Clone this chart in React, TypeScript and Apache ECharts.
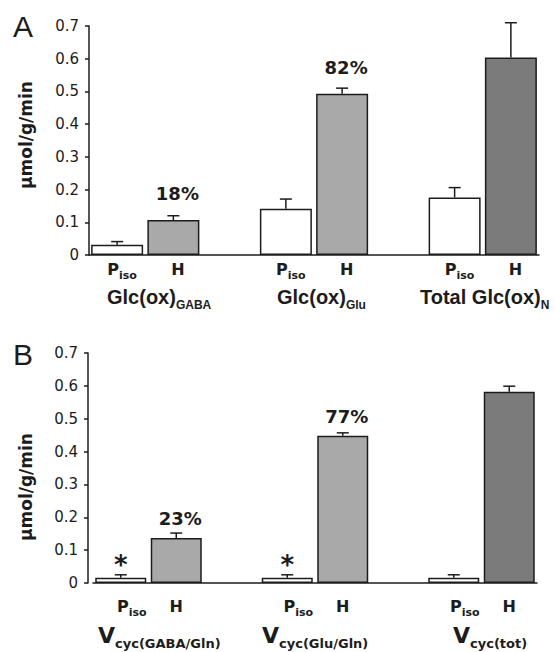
import React, { useEffect, useRef } from 'react';
import * as echarts from 'echarts';

// ---- data ----
const slots = ['Piso', 'H', '', 'Piso', 'H', '', 'Piso', 'H'];
const groupSlots = [[0, 1], [3, 4], [6, 7]];

const pisoA = [0.031, 0.141, 0.176];
const pisoErrA = [0.010, 0.030, 0.030];
const hA = [0.107, 0.493, 0.604];
const hErrA = [0.013, 0.017, 0.106];
const pctA = ['18%', '82%', ''];
const starA = ['', '', ''];
const groupLabelsA = [['Glc(ox)', 'GABA'], ['Glc(ox)', 'Glu'], ['Total Glc(ox)', 'N']];

const pisoB = [0.016, 0.016, 0.016];
const pisoErrB = [0.009, 0.009, 0.009];
const hB = [0.137, 0.448, 0.582];
const hErrB = [0.015, 0.009, 0.017];
const pctB = ['23%', '77%', ''];
const starB = ['*', '*', ''];
const groupLabelsB = [['V', 'cyc(GABA/Gln)'], ['V', 'cyc(Glu/Gln)'], ['V', 'cyc(tot)']];

const yMin = 0;
const yMax = 0.7;
const yStep = 0.1;
const yName = 'μmol/g/min';

// ---- styles ----
const FONT = 'DejaVu Sans';
const FONT2 = 'Liberation Sans';
const INK = '#1c1c1c';
const PISO_COLOR = '#ffffff';
const H_COLORS = ['#a9a9a9', '#a9a9a9', '#7b7b7b'];

function barData(piso: number[], h: number[], pct: string[], star: string[], pctDist: number) {
  const data: any[] = slots.map(() => '-');
  groupSlots.forEach(([pi, hi], g) => {
    data[pi] = {
      value: piso[g],
      itemStyle: { color: PISO_COLOR },
      label: star[g]
        ? { show: true, position: 'top', distance: 0, formatter: star[g], fontSize: 26, fontWeight: 'bold', fontFamily: FONT, color: INK }
        : { show: false },
    };
    data[hi] = {
      value: h[g],
      itemStyle: { color: H_COLORS[g] },
      label: pct[g]
        ? { show: true, position: 'top', distance: pctDist, offset: [4, 0], formatter: pct[g], fontSize: 18, fontWeight: 'bold', fontFamily: FONT, color: INK }
        : { show: false },
    };
  });
  return data;
}

function errData(piso: number[], pErr: number[], h: number[], hErr: number[]) {
  const out: number[][] = [];
  groupSlots.forEach(([pi, hi], g) => {
    out.push([pi, piso[g], pErr[g]]);
    out.push([hi, h[g], hErr[g]]);
  });
  return out;
}

const renderErr = (params: any, api: any) => {
  const idx = api.value(0);
  const v = api.value(1);
  const e = api.value(2);
  const p0 = api.coord([idx, v]);
  const p1 = api.coord([idx, v + e]);
  const half = 6;
  const st = { stroke: INK, lineWidth: 1.5 };
  return {
    type: 'group',
    children: [
      { type: 'line', shape: { x1: p0[0], y1: p0[1], x2: p1[0], y2: p1[1] }, style: st },
      { type: 'line', shape: { x1: p1[0] - half, y1: p1[1], x2: p1[0] + half, y2: p1[1] }, style: st },
    ],
  };
};

function xAxisCfg(gridIndex: number, margin: number, pisoShift: number, hShift: number) {
  return {
    type: 'category',
    gridIndex,
    data: slots,
    axisLine: { show: true, lineStyle: { color: INK, width: 1.5 } },
    axisTick: { show: false },
    axisLabel: {
      interval: 0,
      margin,
      formatter: (v: string) => (v === 'Piso' ? '{q|P}{s|iso}' : v === 'H' ? '{p|H}' : ''),
      rich: {
        p: { fontSize: 16, fontWeight: 'bold', fontFamily: FONT, color: INK, lineHeight: 16, verticalAlign: 'top', padding: [0, 0, 0, hShift] },
        q: { fontSize: 16, fontWeight: 'bold', fontFamily: FONT, color: INK, lineHeight: 16, verticalAlign: 'top', padding: [0, 0, 0, pisoShift] },
        s: { fontSize: 11, fontWeight: 'bold', fontFamily: FONT, color: INK, lineHeight: 11, verticalAlign: 'top', padding: [9, 0, 0, 0] },
      },
    },
    splitLine: { show: false },
  };
}

function yAxisCfg(gridIndex: number, offset: number) {
  return {
    type: 'value',
    gridIndex,
    min: yMin,
    max: yMax,
    interval: yStep,
    offset,
    axisLine: { show: true, lineStyle: { color: INK, width: 1.5 } },
    axisTick: { show: true, length: 4, lineStyle: { color: INK, width: 1.5 } },
    axisLabel: { fontSize: 15, fontFamily: FONT, color: INK, margin: 10 },
    splitLine: { show: false },
  };
}

function groupText(x: number, y: number, main: string, sub: string, mainSize: number, subSize: number, subPad: number, family: string) {
  return {
    type: 'text',
    x,
    y,
    style: {
      text: `{m|${main}}{s|${sub}}`,
      align: 'left',
      verticalAlign: 'top',
      rich: {
        m: { fontSize: mainSize, fontWeight: 'bold', fontFamily: family, fill: INK, lineHeight: mainSize, verticalAlign: 'top' },
        s: { fontSize: subSize, fontWeight: 'bold', fontFamily: family, fill: INK, lineHeight: subSize, verticalAlign: 'top', padding: [subPad, 0, 0, 0] },
      },
    },
  };
}

export default function App() {
  const ref = useRef<HTMLDivElement>(null);
  useEffect(() => {
    if (!ref.current) return;
    const chart = echarts.init(ref.current, undefined, { renderer: 'svg' });
    const groupXA = [107, 277, 420];
    const groupXB = [98, 262, 453];
    const option: any = {
      animation: false,
      backgroundColor: '#ffffff',
      grid: [
        { left: 89, top: 26, width: 450, height: 229 },
        { left: 93, top: 353, width: 444, height: 230 },
      ],
      xAxis: [xAxisCfg(0, 6, 10, 9), xAxisCfg(1, 15, 22, 0)],
      yAxis: [yAxisCfg(0, 0), yAxisCfg(1, 5)],
      series: [
        {
          type: 'bar', xAxisIndex: 0, yAxisIndex: 0, barWidth: 52,
          itemStyle: { borderColor: INK, borderWidth: 1.5 },
          data: barData(pisoA, hA, pctA, starA, 17), z: 2,
        },
        {
          type: 'custom', xAxisIndex: 0, yAxisIndex: 0, renderItem: renderErr,
          encode: { x: 0, y: 1 }, data: errData(pisoA, pisoErrA, hA, hErrA), z: 3,
        },
        {
          type: 'bar', xAxisIndex: 1, yAxisIndex: 1, barWidth: 51,
          itemStyle: { borderColor: INK, borderWidth: 1.5 },
          data: barData(pisoB, hB, pctB, starB, 10), z: 2,
        },
        {
          type: 'custom', xAxisIndex: 1, yAxisIndex: 1, renderItem: renderErr,
          encode: { x: 0, y: 1 }, data: errData(pisoB, pisoErrB, hB, hErrB), z: 3,
        },
      ],
      graphic: [
        { type: 'text', x: 13, y: 26, style: { text: 'A', fontSize: 30, fontFamily: FONT2, fill: INK, align: 'left', verticalAlign: 'middle' } },
        { type: 'text', x: 13, y: 354, style: { text: 'B', fontSize: 30, fontFamily: FONT2, fill: INK, align: 'left', verticalAlign: 'middle' } },
        { type: 'text', x: 26, y: 135, rotation: Math.PI / 2, style: { text: yName, fontSize: 17, fontWeight: 'bold', fontFamily: FONT, fill: INK, align: 'center', verticalAlign: 'middle' } },
        { type: 'text', x: 26, y: 487, rotation: Math.PI / 2, style: { text: yName, fontSize: 17, fontWeight: 'bold', fontFamily: FONT, fill: INK, align: 'center', verticalAlign: 'middle' } },
        ...groupLabelsA.map(([m, s], i) => groupText(groupXA[i], 287, m, s, 20, 12, 12, FONT2)),
        ...groupLabelsB.map(([m, s], i) => groupText(groupXB[i], 624, m, s, 22, 13, 13, FONT)),
      ],
    };
    chart.setOption(option);
    return () => chart.dispose();
  }, []);
  return <div ref={ref} style={{ position: 'absolute', left: 0, top: 0, width: 555, height: 652 }} />;
}
